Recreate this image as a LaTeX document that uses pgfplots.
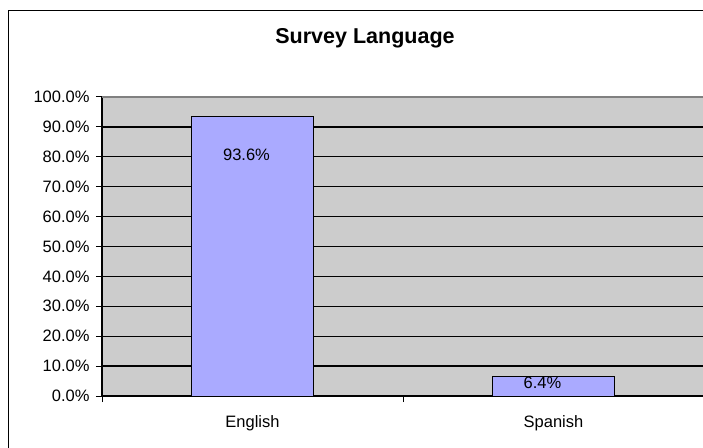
\documentclass[border=0pt]{standalone}
\usepackage{pgfplots}
\pgfplotsset{compat=1.18}
\usepackage{fontspec}
\setmainfont{Liberation Sans}
\definecolor{barblue}{RGB}{170,170,255}
\definecolor{plotgray}{RGB}{204,204,204}
\begin{document}
\begin{tikzpicture}[x=1pt,y=1pt]
\path[use as bounding box] (0,0) rectangle (703,447);
\clip (0,0) rectangle (703,447);
\fill[white] (0,0) rectangle (703,447);
\draw[line width=1.5pt] (8.5,-20) rectangle (730,436.5);
\node[font=\bfseries\fontsize{21.5}{24}\selectfont] at (365,409) {Survey Language};
\begin{axis}[
  at={(102pt,51pt)}, anchor=south west,
  scale only axis, width=602pt, height=299pt,
  xmin=-0.5, xmax=1.5, ymin=0, ymax=100,
  axis background/.style={fill=plotgray},
  axis x line*=bottom, axis y line*=left,
  axis line style={black, line width=1.2pt, -},
  xtick={-0.5,0.5,1.5}, xticklabels={},
  extra x ticks={0,1}, extra x tick labels={English,Spanish},
  extra x tick style={major tick length=0pt, tick label style={yshift=-16pt}},
  ytick={0,10,...,100},
  yticklabel={\pgfmathprintnumber[fixed,fixed zerofill,precision=1]{\tick}\%},
  yticklabel style={xshift=-3pt},
  /pgf/number format/assume math mode=true,
  ymajorgrids, grid style={black, line width=1.4pt},
  tick style={black, line width=1pt},
  major tick length=6pt,
  tick align=outside,
  tick label style={font=\fontsize{16.5}{19}\selectfont},
]
\addplot[ybar, bar width=122pt, fill=barblue, draw=black, line width=1pt,
  point meta=y,
  nodes near coords={\pgfmathprintnumber[fixed,fixed zerofill,precision=1]{\pgfplotspointmeta}\%},
  visualization depends on={\thisrow{off} \as \labeloff},
  visualization depends on={\thisrow{dx} \as \labeldx},
  every node near coord/.append style={anchor=center, yshift=-\labeloff pt, xshift=\labeldx pt, text=black, font=\fontsize{16.5}{19}\selectfont}
] table {
x y off dx
0 93.6 39 -6
1 6.4 6 -11
};
\draw[gray, line width=1.5pt] (rel axis cs:0,1) -- (rel axis cs:1,1);
\end{axis}
\end{tikzpicture}
\end{document}
